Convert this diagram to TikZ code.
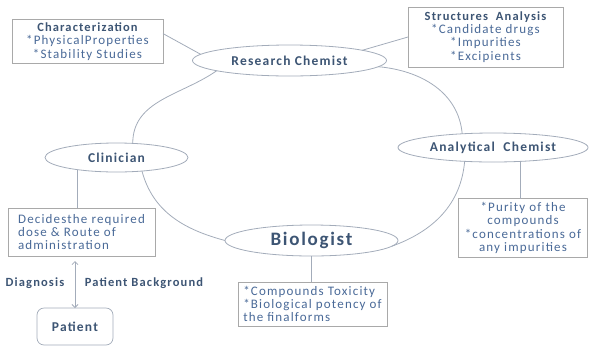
\documentclass[tikz,border=0pt]{standalone}
\usepackage{fontspec}
\setmainfont{Carlito}[LetterSpace=9]
\definecolor{titleBlue}{HTML}{3D5574}
\definecolor{textBlue}{HTML}{4A6A98}
\definecolor{lineGray}{HTML}{A3ACBA}
\definecolor{boxGray}{HTML}{A9A9A9}
\usetikzlibrary{arrows.meta,positioning,shapes.geometric}
\newcommand{\ttl}[1]{{\fontsize{12.5}{13.3}\selectfont\bfseries\color{titleBlue}#1}}

\begin{document}
\begin{tikzpicture}[x=1pt, y=-1pt,
  role/.style={draw=lineGray, fill=white, ellipse, inner sep=0pt, outer sep=0pt,
               font=\fontsize{13.5}{15}\selectfont\bfseries, text=titleBlue, line width=0.8pt},
  info/.style={draw=boxGray, fill=white, inner sep=3pt, outer sep=0pt, align=center,
               font=\fontsize{13}{13.3}\selectfont, text=textBlue, line width=0.7pt},
  lbl/.style={font=\fontsize{12.5}{14}\selectfont\bfseries, text=titleBlue},
  link/.style={lineGray, line width=0.8pt},
  arr/.style={{Straight Barb[length=3pt]}-{Straight Barb[length=3pt]}, lineGray, line width=0.8pt}
]
\useasboundingbox (0,0) rectangle (600,349);
% roles
\node[role, minimum width=194, minimum height=31] (rc) at (289.5,60.5) {Research Chemist};
\node[role, minimum width=143, minimum height=29] (cl) at (116.5,157.5) {Clinician};
\node[role, minimum width=190, minimum height=29] (ac) at (493,147.5) {Analytical\ \ Chemist};
\node[role, minimum width=173, minimum height=31, font=\fontsize{19}{21}\selectfont\bfseries]
     (bi) at (311.5,240.5) {Biologist};
% tasks
\node[info, minimum width=151, minimum height=42] (charbox) at (87.5,41.5)
     {\ttl{Characterization}\\*PhysicalProperties\\*Stability Studies};
\node[info, minimum width=155, minimum height=60] (strbox) at (485.5,37)
     {\ttl{Structures\ \ Analysis}\\*Candidate drugs\\*Impurities\\*Excipients};
\node[info, minimum width=129, minimum height=59] (acbox) at (523,228)
     {*Purity of the\\compounds\\*concentrations of\\any impurities};
\node[info, minimum width=149, minimum height=44, align=left, inner sep=4pt] (bibox) at (312.5,304)
     {*Compounds Toxicity\\*Biological potency of\\the finalforms};
\node[info, minimum width=147, minimum height=48, align=left, inner sep=4pt] (clbox) at (81.5,232)
     {Decidesthe required\\dose \& Route of\\administration};
\node[info, draw=lineGray, rounded corners=7pt, minimum width=76, minimum height=37,
      font=\fontsize{13.5}{15}\selectfont\bfseries, text=titleBlue] (pat) at (75,326.5) {Patient};
\node[lbl] (diag) at (35,283) {Diagnosis};
\node[lbl] (bg)   at (144,283) {Patient Background};
% ring
\draw[link] (rc.188) to[out=215, in=90] (cl.41);
\draw[link] (cl.-28) to[out=-75, in=165] (bi.180);
\draw[link] (rc.-4) to[out=-5, in=95] (ac.156);
\draw[link] (ac.-154) to[out=-95, in=20] (bi.-4);
% links to tasks
\draw[link] (charbox.6) -- (rc.176);
\draw[link] (strbox.west) -- (rc.8);
\draw[link] (cl.-163) -- (clbox.north -| cl.-163);
\draw[link] (ac.-27) -- (acbox.north -| ac.-27);
\draw[link] (bi.south) -- (bibox.north -| bi.south);
\draw[arr, shorten <=5pt] (pat.north |- clbox.south) -- (pat.north);
\end{tikzpicture}
\end{document}
